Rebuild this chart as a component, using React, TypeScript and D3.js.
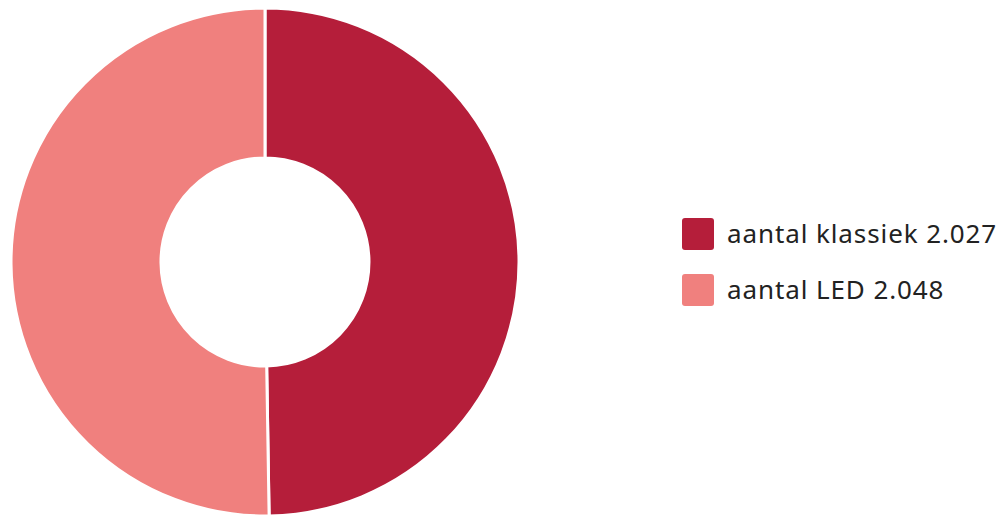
import React from "react";
import * as d3 from "d3";

const labels = ["aantal klassiek", "aantal LED"];
const values = [2027, 2048];
const valueLabels = ["2.027", "2.048"];
const colors = ["#B51E3A", "#F0807E"];

export default function App() {
  const width = 1003;
  const height = 516;
  const cx = 265;
  const cy = 262;
  const outerR = 254;
  const innerR = 104;
  const pie = d3.pie<number>().sort(null).value((d) => d)(values);
  const arc = d3.arc<d3.PieArcDatum<number>>().innerRadius(innerR).outerRadius(outerR);
  return (
    <svg width={width} height={height} style={{ position: "absolute", left: 0, top: 0 }}>
      <g transform={`translate(${cx},${cy})`}>
        {pie.map((p, i) => (
          <path key={i} d={arc(p) || ""} fill={colors[i]} stroke="#fff" strokeWidth={3} />
        ))}
      </g>
      <g fontFamily="'Noto Sans', sans-serif" fontSize={26} letterSpacing={0.9} fill="#222">
        {labels.map((l, i) => (
          <g key={i} transform={`translate(682,${218 + i * 56})`}>
            <rect width={32} height={32} rx={3} fill={colors[i]} />
            <text x={45} y={25}>{`${l} ${valueLabels[i]}`}</text>
          </g>
        ))}
      </g>
    </svg>
  );
}
